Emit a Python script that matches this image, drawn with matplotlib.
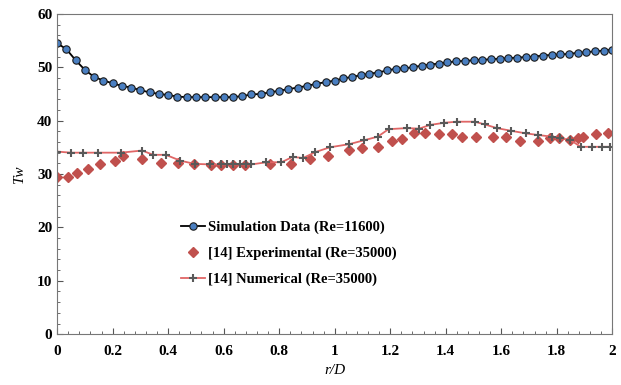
import numpy as np
import matplotlib
matplotlib.use("Agg")
import matplotlib.pyplot as plt
from matplotlib.ticker import MultipleLocator, FuncFormatter

plt.rcParams['font.family'] = ['Liberation Serif', 'DejaVu Serif']
plt.rcParams['font.weight'] = 'bold'

# Simulation Data (Re=11600)
r_sim = [0.0, 0.033, 0.067, 0.1, 0.133, 0.167, 0.2, 0.233, 0.267, 0.3,
         0.333, 0.367, 0.4, 0.433, 0.467, 0.5, 0.533, 0.567, 0.6, 0.633,
         0.667, 0.7, 0.733, 0.767, 0.8, 0.833, 0.867, 0.9, 0.933, 0.967,
         1.0, 1.031, 1.063, 1.094, 1.125, 1.156, 1.188, 1.219, 1.25, 1.281,
         1.313, 1.344, 1.375, 1.406, 1.438, 1.469, 1.5, 1.531, 1.563, 1.594,
         1.625, 1.656, 1.688, 1.719, 1.75, 1.781, 1.813, 1.844, 1.875, 1.906,
         1.938, 1.969, 2.0]
tw_sim = [54.5, 53.4, 51.3, 49.5, 48.2, 47.5, 47.0, 46.5, 46.2, 45.7,
          45.3, 45.0, 44.8, 44.5, 44.4, 44.4, 44.4, 44.4, 44.4, 44.4,
          44.6, 44.9, 45.0, 45.3, 45.6, 45.9, 46.2, 46.5, 46.9, 47.2,
          47.5, 47.9, 48.2, 48.5, 48.8, 49.0, 49.4, 49.7, 49.8, 50.0,
          50.3, 50.5, 50.7, 50.9, 51.1, 51.2, 51.3, 51.4, 51.5, 51.6,
          51.7, 51.8, 51.9, 52.0, 52.2, 52.3, 52.4, 52.5, 52.7, 52.8,
          53.0, 53.1, 53.3]

# [14] Experimental (Re=35000)
r_exp = [0.0, 0.04, 0.073, 0.112, 0.156, 0.208, 0.238, 0.306, 0.373, 0.436,
         0.494, 0.553, 0.592, 0.632, 0.676, 0.766, 0.841, 0.911, 0.977,
         1.05, 1.097, 1.155, 1.208, 1.243, 1.285, 1.325, 1.374, 1.421, 1.457,
         1.51, 1.57, 1.616, 1.667, 1.731, 1.776, 1.807, 1.848, 1.878, 1.896,
         1.94, 1.983]
tw_exp = [29.5, 29.5, 30.1, 30.9, 31.8, 32.5, 33.3, 32.8, 32.0, 32.0,
          31.8, 31.6, 31.6, 31.7, 31.7, 31.9, 31.9, 32.8, 33.3,
          34.5, 34.8, 35.1, 36.1, 36.5, 37.6, 37.6, 37.5, 37.5, 37.0,
          37.0, 37.0, 37.0, 36.1, 36.1, 36.8, 36.8, 36.3, 36.8, 37.0,
          37.5, 37.6]

# [14] Numerical (Re=35000)
r_num = [0.0, 0.05, 0.092, 0.146, 0.23, 0.306, 0.346, 0.391, 0.444, 0.495,
         0.552, 0.592, 0.613, 0.634, 0.658, 0.68, 0.7, 0.754, 0.808, 0.848,
         0.886, 0.93, 0.982, 1.053, 1.104, 1.155, 1.194, 1.26, 1.304, 1.344,
         1.395, 1.44, 1.504, 1.54, 1.584, 1.635, 1.69, 1.734, 1.782, 1.812,
         1.848, 1.886, 1.926, 1.962, 1.992]
tw_num = [34.2, 34.0, 34.0, 34.0, 34.0, 34.4, 33.6, 33.6, 32.5, 31.9,
          31.8, 31.8, 31.8, 31.8, 31.8, 31.8, 31.8, 32.2, 32.2, 33.2,
          33.0, 34.1, 35.0, 35.6, 36.3, 37.0, 38.4, 38.6, 38.5, 39.2,
          39.6, 39.8, 39.8, 39.3, 38.6, 38.1, 37.6, 37.3, 37.0, 36.7,
          36.4, 35.1, 35.1, 35.1, 35.1]

fig = plt.figure(figsize=(6.21, 3.85), dpi=100)
ax = fig.add_axes([0.092, 0.132, 0.894, 0.832])

ax.plot(r_sim, tw_sim, color='black', lw=1.3, marker='o', ms=5.3,
        mfc='#4a7fc1', mec='#1a1a1a', mew=0.8,
        label='Simulation Data (Re=11600)')
ax.plot(r_exp, tw_exp, ls='none', marker='D', ms=5, color='#c0504d',
        label='[14] Experimental (Re=35000)')
ax.plot(r_num, tw_num, color='#e06666', lw=1.3, marker='+', ms=6,
        mec='#595959', mew=1.5, label='[14] Numerical (Re=35000)')

ax.set_xlim(0, 2)
ax.set_ylim(0, 60)
ax.xaxis.set_major_locator(MultipleLocator(0.2))
ax.xaxis.set_minor_locator(MultipleLocator(0.04))
ax.xaxis.set_major_formatter(FuncFormatter(lambda v, p: '%g' % round(v, 2)))
ax.yaxis.set_major_locator(MultipleLocator(10))
ax.yaxis.set_minor_locator(MultipleLocator(2))
ax.tick_params(which='both', direction='in', color='#555555', labelsize=11)
ax.tick_params(which='major', length=4)
ax.tick_params(which='minor', length=2.5)
ax.tick_params(axis='x', pad=8)
for s in ax.spines.values():
    s.set_color('#777777')

ax.set_xlabel('r/D', style='italic', fontsize=11, labelpad=4)
ax.set_ylabel('Tw', style='italic', fontsize=11, labelpad=8)

ax.legend(loc='upper left', bbox_to_anchor=(0.2, 0.395), frameon=False,
          fontsize=10.5, handlelength=1.6, handletextpad=0.2, labelspacing=0.85)

fig.savefig('out.png', dpi=100)
